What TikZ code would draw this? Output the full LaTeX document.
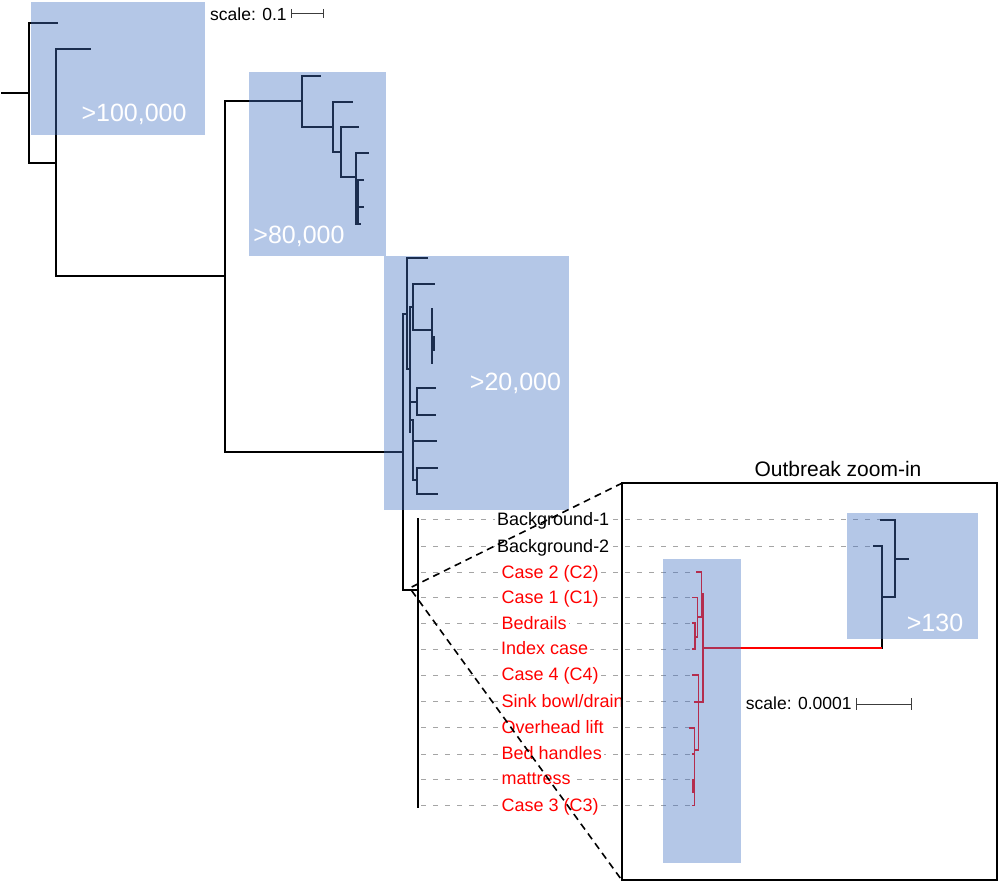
\documentclass[tikz,border=0pt]{standalone}
\usepackage{fontspec}
\setmainfont{Liberation Sans}
\definecolor{accent}{RGB}{68,114,196}
\definecolor{rowgrey}{RGB}{165,165,165}
\definecolor{barg}{RGB}{60,60,60}
\begin{document}
\begin{tikzpicture}[x=1pt,y=-1pt,
  tree/.style={line width=2pt,line cap=rect,line join=miter,black},
  rtree/.style={line width=1.8pt,line cap=rect,line join=miter,red},
  rowline/.style={rowgrey,line width=1pt,dash pattern=on 5pt off 7pt},
  zoomline/.style={black,line width=1.6pt,dash pattern=on 7pt off 5pt},
  clade/.style={fill=accent,fill opacity=0.4},
  big/.style={text=white,font=\fontsize{25}{28}\selectfont,inner sep=0pt},
  lab/.style={anchor=base west,fill=white,inner xsep=2pt,inner ysep=1pt,font=\fontsize{18}{21}\selectfont},
  scl/.style={anchor=west,inner sep=0pt,font=\fontsize{17.5}{20}\selectfont}]
\useasboundingbox (0,0) rectangle (1001,883);

% ---------- upper tree ----------
\draw[tree] (2,93.3)--(29,93.3);
\draw[tree] (57,23.3)--(29,23.3)--(29,162.7)--(56,162.7);
\draw[tree] (90,49.3)--(56,49.3)--(56,275.7)--(225,275.7);
\draw[tree] (302,101)--(225,101)--(225,451.7)--(403.3,451.7);
\draw[tree] (320,75.7)--(302,75.7)--(302,127.3)--(332.7,127.3);
\draw[tree] (352.3,102.3)--(332.7,102.3)--(332.7,152.3)--(341.3,152.3);
\draw[tree] (357.7,127.3)--(341.3,127.3)--(341.3,176.7)--(355.7,176.7);
\draw[tree] (368.3,153.3)--(355.7,153.3)--(355.7,224)--(360,224);
\draw[tree] (355.7,180)--(363.3,180);
\draw[tree] (357.5,206.7)--(363.3,206.7);
\draw[tree] (357.5,180)--(357.5,224);
% third clade
\draw[tree] (403.3,314.3)--(403.3,590)--(417.7,590);
\draw[tree] (403.3,314.3)--(406.7,314.3);
\draw[tree] (426.7,258.3)--(406.7,258.3)--(406.7,369)--(410,369);
\draw[tree] (413.3,307.3)--(410,307.3)--(410,431.7);
\draw[tree] (434.3,284.3)--(413.3,284.3)--(413.3,330)--(432.3,330);
\draw[tree] (432.3,309.3)--(432.3,363.3);
\draw[tree] (433.5,336.7)--(433.5,350);
\draw[tree] (410,401.7)--(416.7,401.7);
\draw[tree] (435,388.3)--(416.7,388.3)--(416.7,415)--(435,415);
\draw[tree] (410,420)--(413.3,420)--(413.3,480)--(416.7,480);
\draw[tree] (413.3,441)--(435.7,441);
\draw[tree] (437.3,467.7)--(416.7,467.7)--(416.7,494)--(437.3,494);
\draw[tree] (417.7,519)--(417.7,807);

% ---------- row guide lines ----------
\foreach \yy/\xe in {519.5/881,546/874,572/692,597.5/692,623.3/692,649/692,675/692,701.7/692,727.7/690,754/692,779.7/692,805.5/692}
  \draw[rowline] (421,\yy)--(\xe,\yy);

% ---------- outbreak subtree (right) ----------
\draw[tree] (881,520)--(895,520)--(895,597.3)--(882.3,597.3);
\draw[tree] (895,558.7)--(908.3,558.7);
\draw[tree] (874.3,546)--(882.3,546)--(882.3,648);
\draw[rtree] (703,648)--(881.3,648);
% ---------- red outbreak tree ----------
\draw[rtree] (703,594)--(703,702);
\draw[rtree] (697,572)--(701.5,572)--(701.5,617)--(697.5,617);
\draw[rtree] (701.5,594)--(703,594);
\draw[rtree] (693,597.5)--(697.5,597.5)--(697.5,637)--(695,637);
\draw[rtree] (693,623.3)--(695,623.3)--(695,649)--(693,649);
\draw[rtree] (693,675)--(698.5,675)--(698.5,750)--(694.5,750);
\draw[rtree] (695,701.7)--(703,701.7);
\draw[rtree] (690,727.7)--(694.5,727.7)--(694.5,805.5)--(692.5,805.5);
\draw[rtree] (693,754)--(694.5,754);
\draw[rtree] (692.5,779.7)--(694.5,779.7);
\draw[rtree] (693,779.7)--(693,792);

% ---------- translucent clade boxes ----------
\fill[clade] (31,2) rectangle (205,135);
\fill[clade] (249.3,72.3) rectangle (385.7,255.7);
\fill[clade] (384.3,255.7) rectangle (569.3,509.5);
\fill[clade] (847.3,512.7) rectangle (978.3,639.3);
\fill[clade] (663.3,559.3) rectangle (741,863.3);

\node[big] (t100) at (134,114) {>100,000};
\node[big] (t80) at (299,236) {>80,000};
\node[big] (t20) at (515.5,383.5) {>20,000};
\node[big] (t130) at (935,622.5) {>130};

% ---------- scale bars ----------
\node[scl] (s1) at (210,14) {scale: 0.1};
\draw[barg,line width=1pt] (291.7,13.3)--(323.3,13.3);
\draw[barg,line width=1pt] (291.7,9)--(291.7,18) (323.3,9)--(323.3,18);
\node[scl] (s2) at (745.7,703) {scale: 0.0001};
\draw[barg,line width=1pt] (856.7,704)--(911,704);
\draw[barg,line width=1pt] (856.7,698)--(856.7,710) (911,698)--(911,710);

% ---------- labels ----------
\node[lab] (bg1) at (495,525.7) {Background-1};
\node[lab] (bg2) at (495,552.2) {Background-2};
\begin{scope}[every node/.append style={text=red}]
\node[lab] (c2) at (499.5,578.2) {Case 2 (C2)};
\node[lab] (c1) at (499.5,603.7) {Case 1 (C1)};
\node[lab] (br) at (499.5,629.5) {Bedrails};
\node[lab] (ix) at (499,654.5) {Index case};
\node[lab] (c4) at (499.5,680.5) {Case 4 (C4)};
\node[lab] (sk) at (499.5,707.5) {Sink bowl/drain};
\node[lab] (ol) at (499.5,733.3) {Overhead lift};
\node[lab] (bh) at (499.5,759.7) {Bed handles};
\node[lab] (mt) at (499.5,784) {mattress};
\node[lab] (c3) at (499.5,811.3) {Case 3 (C3)};
\end{scope}

% ---------- zoom-in frame ----------
\coordinate (zs1) at (411.7,587);
\coordinate (zs2) at (411.7,590.7);
\coordinate (ztl) at (621.7,483.3);
\coordinate (zbl) at (621.7,880);
\coordinate (zbr) at (997,880);
\draw[zoomline] (zs1)--(ztl);
\draw[zoomline] (zs2)--(zbl);
\draw[black,line width=1.8pt] (ztl) rectangle (zbr);
\node[font=\fontsize{21}{24}\selectfont,inner sep=0pt] (title) at (838,469) {Outbreak zoom-in};
\end{tikzpicture}
\end{document}
